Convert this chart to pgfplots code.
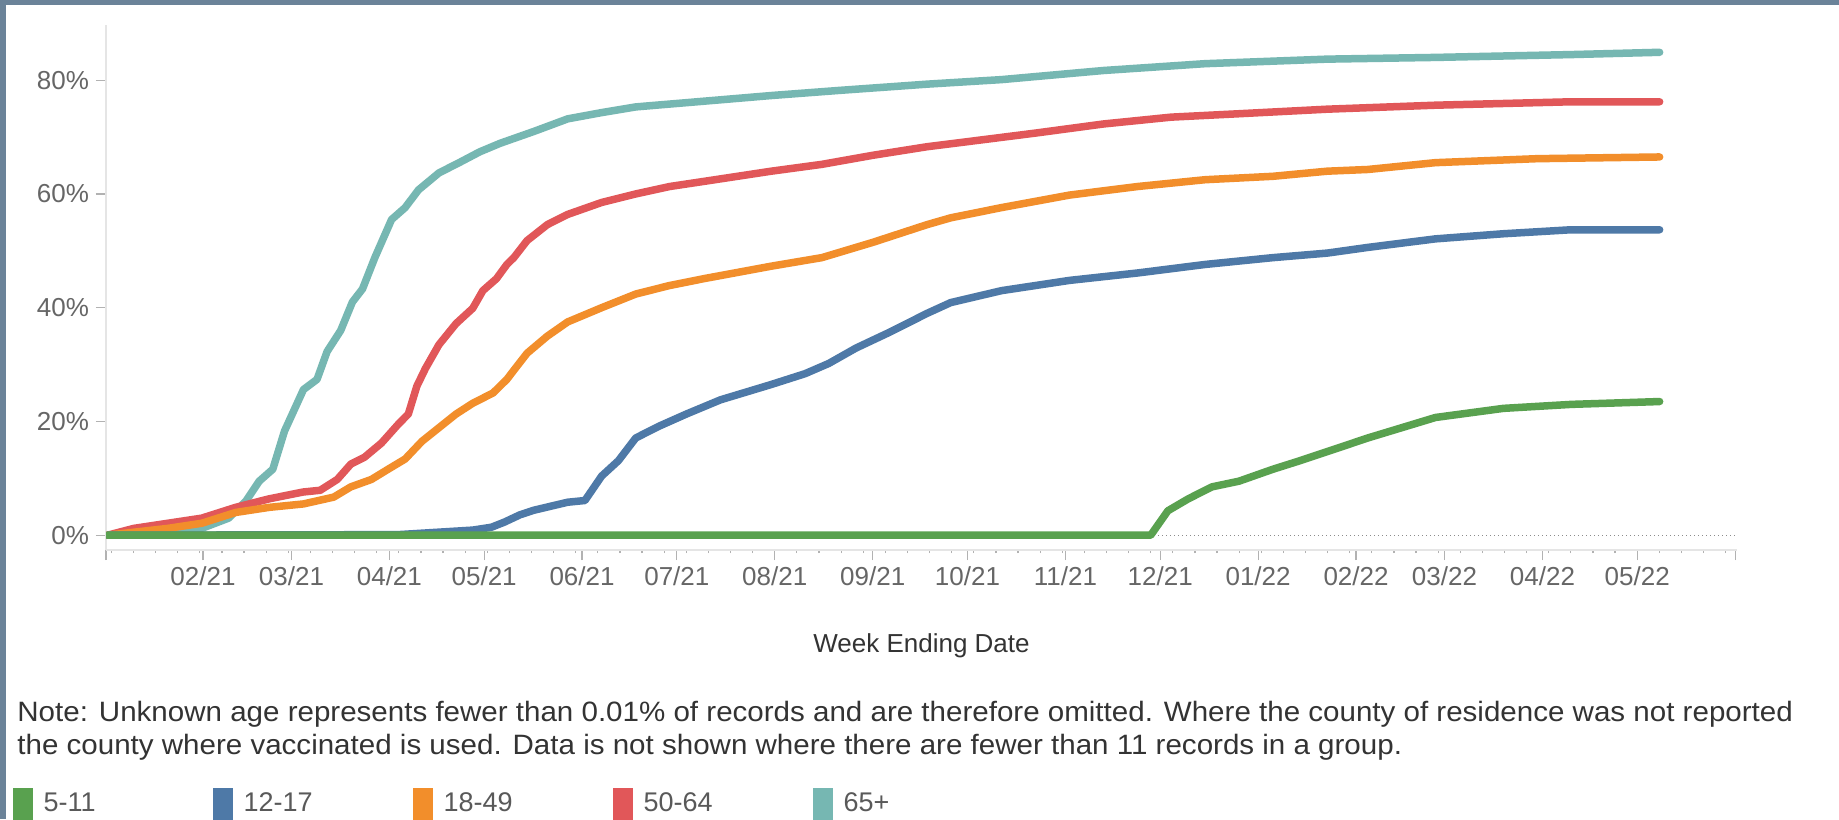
\documentclass[border=0pt]{standalone}
\usepackage{pgfplots}
\pgfplotsset{compat=1.18}
\usepackage{fontspec}
\setmainfont{Liberation Sans}
\newfontfamily\notefont{Liberation Sans}[FakeStretch=1.055]

\definecolor{frame}{RGB}{107,131,153}
\definecolor{cfive}{HTML}{59A14F}
\definecolor{ctwelve}{HTML}{4E79A7}
\definecolor{ceighteen}{HTML}{F28E2B}
\definecolor{cfifty}{HTML}{E15759}
\definecolor{csixtyfive}{HTML}{76B7B2}

% x = days since 2021-01-01, y = percent vaccinated
\begin{document}
\begin{tikzpicture}
\useasboundingbox (0,0) rectangle (919.5pt,409.5pt);
\fill[frame] (0,0) rectangle (919.5pt,409.5pt);
\fill[white] (3pt,0) rectangle (919.5pt,407pt);
\begin{axis}[
  at={(53pt,134.5pt)}, anchor=south west,
  scale only axis, width=815.5pt, height=262.5pt,
  xmin=0.3, xmax=516.6, ymin=-2.6, ymax=89.7,
  axis x line*=bottom, axis y line*=left,
  axis line style={draw=black!10, line width=0.8pt, -},
  xtick={0.3,31,59,90,120,151,181,212,243,273,304,334,365,396,424,455,485,516},
  xticklabels={{},02/21,03/21,04/21,05/21,06/21,07/21,08/21,09/21,10/21,11/21,12/21,01/22,02/22,03/22,04/22,05/22,{}},
  minor xtick={2,9,...,516},
  ytick={0,20,40,60,80},
  yticklabels={0\%,20\%,40\%,60\%,80\%},
  extra y ticks={0},
  extra y tick labels={},
  extra y tick style={grid=major, major tick length=0pt,
    major grid style={black!45, line width=0.5pt, dash pattern=on 0.5pt off 1.5pt}},
  tick align=outside,
  major tick length=5pt, minor tick length=1.5pt,
  tick style={draw=black!30, line width=0.6pt},
  tick label style={text=black!60, font=\fontsize{13}{15}\selectfont},
  xlabel={Week Ending Date},
  xlabel style={at={(axis description cs:0.5,0)}, anchor=base, yshift=-51pt,
    text=black!80, font=\fontsize{13}{15}\selectfont},
  every axis plot/.append style={line width=3.75pt, line cap=round, line join=round},
  legend image code/.code={\fill[#1,draw=none] (0pt,-8pt) rectangle (10pt,8pt);},
  reverse legend,
  legend style={at={(axis description cs:-0.0575,-0.452)}, anchor=north west,
    draw=none, fill=none, legend columns=5, inner sep=0pt,
    nodes={inner sep=0pt}, text=black!65, font=\fontsize{13.5}{15}\selectfont,
    /tikz/every even column/.append style={column sep=5pt}},
]
\addplot[csixtyfive] coordinates {
(0.8,0) (19.85,0.3) (30.6,1.2) (39.1,3) (44.6,6) (48.8,9.5) (53.1,11.6) (56.8,18.3)
(62.8,25.6) (67.1,27.4) (70.3,32.3) (74.6,36) (78.3,41) (81.5,43.3) (85.4,48.8)
(90.7,55.5) (95,57.6) (99.2,60.7) (105.7,63.7) (112.1,65.5) (118.6,67.4)
(125.05,68.9) (135.8,71) (146.45,73.2) (157.2,74.3) (168,75.3) (189.5,76.3)
(210.9,77.3) (232.4,78.2) (260.2,79.3) (283.8,80.1) (316.05,81.7) (348.2,82.9)
(386.9,83.7) (421.15,84) (464.05,84.5) (492.1,84.9)
};
\addlegendentry{\makebox[85pt][l]{\hspace*{5.5pt}65+}}
\addplot[cfifty] coordinates {
(0.8,0) (9.1,1.2) (19.85,2.1) (30.6,3) (41.35,4.9) (52,6.4) (62.8,7.6) (68.1,7.9)
(73.5,9.8) (77.8,12.5) (82.1,13.7) (87.5,16.2) (92.8,19.5) (96,21.3) (98.7,26.2)
(101.4,29.3) (105.7,33.5) (111.1,37.2) (116.4,39.9) (119.6,43) (123.9,45.1)
(127.2,47.6) (129.4,48.8) (133.6,51.8) (140,54.6) (146.45,56.4) (157.2,58.5)
(168,60) (178.7,61.3) (189.5,62.2) (210.9,64) (226.9,65.2) (243.1,66.8)
(260.2,68.3) (273.15,69.2) (294.55,70.7) (316.05,72.3) (337.45,73.5) (358.95,74.1)
(386.9,74.9) (421.15,75.6) (464.05,76.2) (492.1,76.2)
};
\addlegendentry{\makebox[85pt][l]{\hspace*{5.5pt}50-64}}
\addplot[ceighteen] coordinates {
(0.8,0) (19.85,1.2) (30.6,2.1) (41.35,4) (52,4.9) (62.8,5.5) (72.4,6.7) (77.8,8.5)
(84.3,9.8) (89.6,11.6) (95,13.4) (100.3,16.5) (105.7,18.9) (111.1,21.3)
(116.4,23.2) (122.8,25) (127.2,27.4) (129.4,29) (133.6,32) (140,35) (146.45,37.5)
(157.2,40) (168,42.4) (178.7,43.9) (189.5,45.1) (210.9,47.3) (226.9,48.8)
(243.1,51.5) (260.2,54.6) (267.7,55.8) (283.8,57.6) (305.3,59.8) (326.8,61.3)
(348.2,62.5) (369.7,63.1) (386.9,64) (399.75,64.3) (421.15,65.5) (453.4,66.2)
(492.1,66.5)
};
\addlegendentry{\makebox[85pt][l]{\hspace*{5.5pt}18-49}}
\addplot[ctwelve] coordinates {
(0.8,0) (92.8,0.1) (116.4,0.9) (122.3,1.4) (126.4,2.3) (131.4,3.6) (135.8,4.4)
(146.45,5.8) (151.9,6.1) (157.2,10.4) (162.5,13.1) (168,17.1) (175.5,19.2)
(184,21.3) (194.8,23.8) (210.9,26.5) (221.6,28.4) (229.1,30.2) (237.7,32.9)
(248.4,35.7) (260.2,39) (267.7,40.9) (283.8,43) (305.3,44.8) (326.8,46.1)
(348.2,47.6) (369.7,48.8) (386.9,49.6) (399.75,50.6) (421.15,52.1) (442.65,53)
(464.05,53.7) (492.1,53.7)
};
\addlegendentry{\makebox[85pt][l]{\hspace*{5.5pt}12-17}}
\addplot[cfive] coordinates {
(0.8,0) (331,0) (336.45,4.3) (342.9,6.4) (350.4,8.5) (358.95,9.5) (369.7,11.6)
(378.25,13.1) (386.9,14.7) (399.75,17.1) (421.15,20.7) (442.65,22.3) (464.05,23)
(492.1,23.5)
};
\addlegendentry{\makebox[85pt][l]{\hspace*{5.5pt}5-11}}
\end{axis}
\node[anchor=base west, text=black!80, font=\notefont\fontsize{14}{16}\selectfont, inner sep=0pt]
  at (8.5pt,49pt) {Note: Unknown age represents fewer than 0.01\% of records and are therefore omitted. Where the county of residence was not reported};
\node[anchor=base west, text=black!80, font=\notefont\fontsize{14}{16}\selectfont, inner sep=0pt]
  at (8.5pt,32.5pt) {the county where vaccinated is used. Data is not shown where there are fewer than 11 records in a group.};
\end{tikzpicture}
\end{document}
